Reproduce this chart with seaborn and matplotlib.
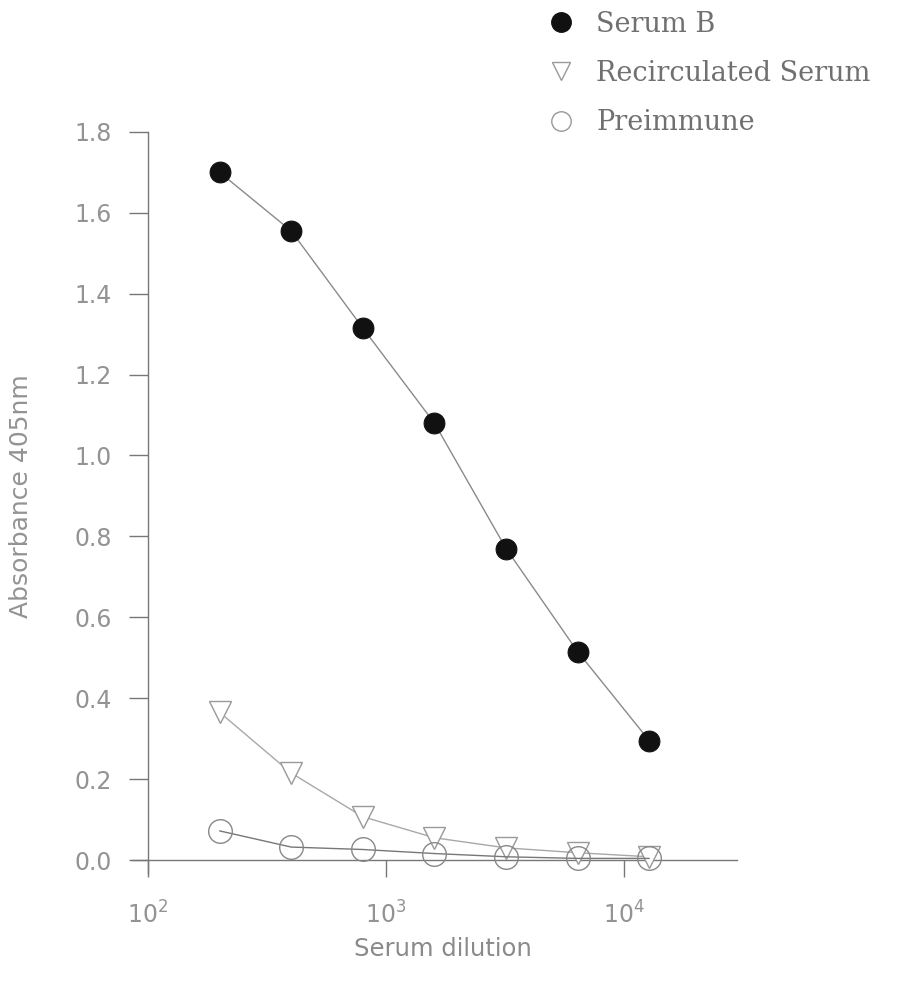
import matplotlib
matplotlib.use("Agg")
import matplotlib.pyplot as plt
import seaborn as sns
import numpy as np
import pandas as pd
from matplotlib.ticker import FixedLocator, NullLocator, LogFormatterMathtext

dilution = [200, 400, 800, 1600, 3200, 6400, 12800]
serum_b = [1.70, 1.555, 1.315, 1.08, 0.77, 0.515, 0.295]
recirculated = [0.365, 0.215, 0.107, 0.055, 0.030, 0.018, 0.008]
preimmune = [0.072, 0.032, 0.026, 0.016, 0.008, 0.004, 0.004]
series_names = ["Serum B", "Recirculated Serum", "Preimmune"]
y_ticks = [0.0, 0.2, 0.4, 0.6, 0.8, 1.0, 1.2, 1.4, 1.6, 1.8]
x_ticks = [100, 1000, 10000]

sns.set_style("white")
plt.rcParams['font.family'] = ['DejaVu Sans']

fig = plt.figure(figsize=(9.08, 9.84), dpi=100)
ax = fig.add_axes([0.163, 0.126, 0.649, 0.740])

df = pd.DataFrame({"dilution": dilution, "Serum B": serum_b,
                   "Recirculated Serum": recirculated, "Preimmune": preimmune})

sns.lineplot(data=df, x="dilution", y="Serum B", ax=ax, color="#8a8a8a", lw=1.0,
             marker="o", markersize=15, markerfacecolor="#111111",
             markeredgecolor="#111111", clip_on=False, zorder=3)
sns.lineplot(data=df, x="dilution", y="Recirculated Serum", ax=ax, color="#a8a8a8", lw=1.0,
             marker="v", markersize=16, markerfacecolor="white",
             markeredgecolor="#999999", markeredgewidth=1.0, clip_on=False, zorder=3)
sns.lineplot(data=df, x="dilution", y="Preimmune", ax=ax, color="#777777", lw=1.0,
             marker="o", markersize=17, markerfacecolor="none",
             markeredgecolor="#888888", markeredgewidth=1.0, clip_on=False, zorder=4)

ax.set_xscale("log")
ax.set_xlim(100, 30000)
ax.set_ylim(0, 1.8)
ax.xaxis.set_major_locator(FixedLocator(x_ticks))
ax.xaxis.set_minor_locator(NullLocator())
ax.xaxis.set_major_formatter(LogFormatterMathtext())
ax.set_yticks(y_ticks)
ax.set_yticklabels([f"{v:.1f}" for v in y_ticks])

for s in ["top", "right"]:
    ax.spines[s].set_visible(False)
ax.spines["left"].set_bounds(-0.032, 1.8)
ax.spines["bottom"].set_bounds(86, 30000)
for s in ["left", "bottom"]:
    ax.spines[s].set_color("#777777")
    ax.spines[s].set_linewidth(1.0)

ax.tick_params(axis="y", direction="out", length=14, width=1.0, color="#777777",
               labelsize=17, labelcolor="#939393", pad=12, left=True)
ax.tick_params(axis="x", direction="out", length=12, width=1.0, color="#777777",
               labelsize=17, labelcolor="#939393", pad=18, bottom=True)

ax.set_xlabel("Serum dilution", fontsize=17.5, color="#8a8a8a", labelpad=6)
ax.set_ylabel("Absorbance 405nm", fontsize=18, color="#939393", labelpad=30)

# legend outside, upper right
handles = [
    plt.Line2D([], [], ls="none", marker="o", markersize=14, markerfacecolor="#111111", markeredgecolor="#111111"),
    plt.Line2D([], [], ls="none", marker="v", markersize=13, markerfacecolor="white", markeredgecolor="#999999"),
    plt.Line2D([], [], ls="none", marker="o", markersize=14, markerfacecolor="none", markeredgecolor="#999999"),
]
leg = fig.legend(handles, series_names, loc="upper left", bbox_to_anchor=(0.576, 1.014),
                 frameon=False, handlelength=1.0, handletextpad=0.8, labelspacing=0.82,
                 prop={"family": "DejaVu Serif", "size": 19.5})
for t in leg.get_texts():
    t.set_color("#707070")

fig.savefig("out.png", dpi=100, facecolor="white")
